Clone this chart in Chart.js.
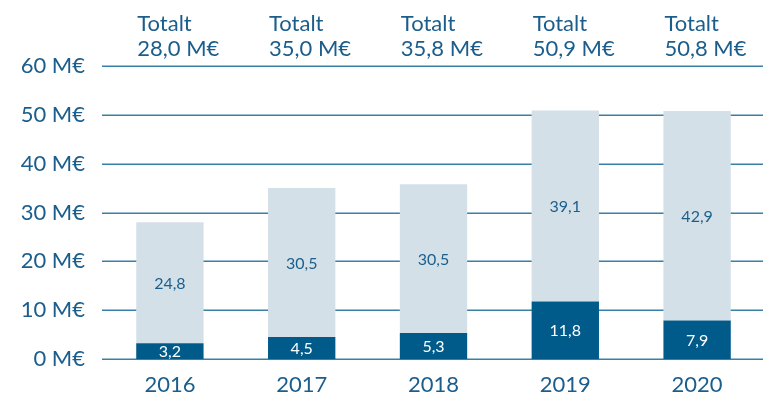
<!DOCTYPE html>
<html>
<head>
<meta charset="utf-8">
<script src="https://cdn.jsdelivr.net/npm/chart.js@4/dist/chart.umd.min.js"></script>
<style>
html,body{margin:0;padding:0;background:#fff;}
#wrap{width:763px;height:402px;position:relative;}
</style>
</head>
<body>
<div id="wrap"><canvas id="c" width="763" height="402"></canvas></div>
<script>
const years = ['2016','2017','2018','2019','2020'];
const darkValues = [3.2, 4.5, 5.3, 11.8, 7.9];
const lightValues = [24.8, 30.5, 30.5, 39.1, 42.9];
const totals = [28.0, 35.0, 35.8, 50.9, 50.8];
const yTicks = [0, 10, 20, 30, 40, 50, 60];

const FONT = 'Lato';
const TEXT = '#1b5e8c';
const DARK = '#005b8a';
const LIGHT = '#d4e0e8';
const GRID = '#3a7fa6';

function fmt(v){ return v.toFixed(1).replace('.', ','); }

const gridPlugin = {
  id: 'gridlines',
  beforeDatasetsDraw(chart){
    const ctx = chart.ctx;
    const ys = chart.scales.y;
    ctx.save();
    ctx.strokeStyle = GRID;
    ctx.lineWidth = 1.5;
    yTicks.forEach(v => {
      const y = Math.round(ys.getPixelForValue(v)) + 0.25;
      ctx.beginPath();
      ctx.moveTo(102, y);
      ctx.lineTo(chart.width, y);
      ctx.stroke();
    });
    ctx.restore();
  }
};

const labelPlugin = {
  id: 'labels',
  afterDatasetsDraw(chart){
    const ctx = chart.ctx;
    ctx.save();
    ctx.textAlign = 'center';
    ctx.textBaseline = 'middle';
    ctx.font = '16px ' + FONT;
    chart.data.datasets.forEach((ds, di) => {
      const meta = chart.getDatasetMeta(di);
      meta.data.forEach((bar, i) => {
        const y = (bar.y + bar.base) / 2;
        ctx.fillStyle = di === 0 ? '#ffffff' : TEXT;
        ctx.fillText(fmt(ds.data[i]), bar.x, y + 1);
      });
    });
    const meta0 = chart.getDatasetMeta(0);
    ctx.textAlign = 'left';
    ctx.textBaseline = 'alphabetic';
    ctx.font = '22px ' + FONT;
    ctx.fillStyle = TEXT;
    meta0.data.forEach((bar, i) => {
      const left = bar.x - bar.width / 2 + 1;
      ctx.fillText('Totalt', left, 31);
      ctx.fillText(fmt(totals[i]) + ' M€', left, 56);
    });
    ctx.restore();
  }
};

new Chart(document.getElementById('c'), {
  type: 'bar',
  data: {
    labels: years,
    datasets: [
      { label: 'dark', data: darkValues, backgroundColor: DARK, borderWidth: 0 },
      { label: 'light', data: lightValues, backgroundColor: LIGHT, borderWidth: 0 }
    ]
  },
  options: {
    responsive: false,
    animation: false,
    devicePixelRatio: 1,
    layout: { padding: { top: 66, left: 0, right: -6, bottom: 0 } },
    plugins: { legend: { display: false }, tooltip: { enabled: false } },
    datasets: { bar: { categoryPercentage: 1.0, barPercentage: 0.511 } },
    scales: {
      x: {
        stacked: true,
        grid: { display: false, drawTicks: false },
        border: { display: false },
        ticks: { color: TEXT, font: { family: FONT, size: 22 }, padding: 13 },
        afterFit(axis){ axis.height = 43; }
      },
      y: {
        stacked: true,
        min: 0, max: 60,
        afterBuildTicks(axis){ axis.ticks = yTicks.map(v => ({ value: v })); },
        grid: { display: false, drawTicks: false },
        border: { display: false },
        ticks: { color: TEXT, font: { family: FONT, size: 22 }, padding: 19,
                 callback: v => v + ' M€' },
        afterFit(axis){ axis.width = 104; }
      }
    }
  },
  plugins: [gridPlugin, labelPlugin]
});
</script>
</body>
</html>
